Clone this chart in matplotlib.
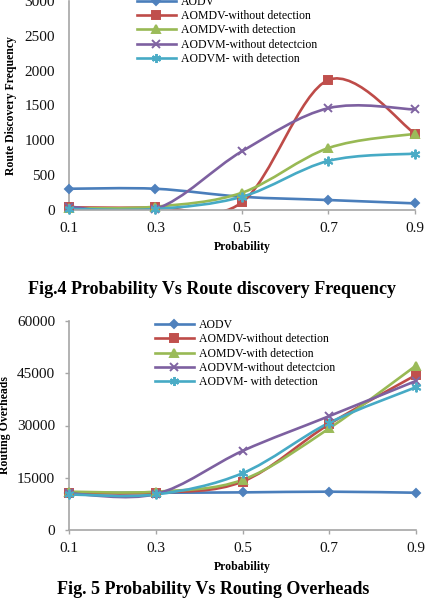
import numpy as np
import matplotlib
matplotlib.use("Agg")
import matplotlib.pyplot as plt
from matplotlib.path import Path
from matplotlib.patches import PathPatch
from matplotlib.lines import Line2D

plt.rcParams['font.family'] = ['Liberation Serif', 'DejaVu Serif']

probability = [0.1, 0.3, 0.5, 0.7, 0.9]
x_tick_labels = ["0.1", "0.3", "0.5", "0.7", "0.9"]
series_names = ["AODV", "AOMDV-without detection", "AOMDV-with detection",
                "AODVM-without detectcion", "AODVM- with detection"]

# Fig.4 Route discovery frequency
rdf_aodv = [305, 305, 190, 143, 95]
rdf_aomdv_wo = [38, 38, 110, 1867, 1095]
rdf_aomdv_w = [24, 48, 248, 890, 1095]
rdf_aodvm_wo = [48, 14, 843, 1462, 1443]
rdf_aodvm_w = [14, 14, 190, 705, 810]

# Fig.5 Routing overheads
ro_aodv = [10700, 10700, 10800, 11000, 10700]
ro_aomdv_wo = [10700, 10700, 13900, 30400, 44500]
ro_aomdv_w = [11000, 11000, 14400, 29200, 47200]
ro_aodvm_wo = [10500, 10300, 22700, 32700, 42800]
ro_aodvm_w = [10200, 10200, 16300, 30800, 41000]

line_colors = ["#4A7EBB", "#BE4B48", "#98B954", "#7D60A0", "#46AAC5"]
marker_colors = ["#4F81BD", "#C0504D", "#9BBB59", "#8064A2", "#4BACC6"]
markers = ["D", "s", "^", "x", (6, 2, 0)]
msizes = [4.5, 6, 6, 6, 7]

W, H = 433, 601
fig = plt.figure(figsize=(W / 100, H / 100), dpi=100)


def smooth_path(xs, ys):
    xs = np.asarray(xs, float)
    ys = np.asarray(ys, float)
    pts = np.column_stack([xs, ys])
    n = len(pts)
    verts = [pts[0]]
    codes = [Path.MOVETO]
    for i in range(n - 1):
        p0 = pts[i - 1] if i > 0 else pts[i]
        p1 = pts[i]
        p2 = pts[i + 1]
        p3 = pts[i + 2] if i + 2 < n else pts[i + 1]
        c1 = p1 + (p2 - p0) / 6.0
        c2 = p2 - (p3 - p1) / 6.0
        verts += [c1, c2, p2]
        codes += [Path.CURVE4] * 3
    return Path(verts, codes)


def make_axes(rect, data, ymax, yticks, ylabel, legend_pos, ytickmarks):
    ax = fig.add_axes(rect)
    for i, ys in enumerate(data):
        patch = PathPatch(smooth_path(probability, ys), facecolor='none',
                          edgecolor=line_colors[i], lw=1.9, zorder=2 + i * 0.1)
        ax.add_patch(patch)
        ax.plot(probability, ys, linestyle='none', marker=markers[i],
                markersize=msizes[i], color=marker_colors[i],
                markeredgecolor=marker_colors[i], mew=1.4, zorder=3 + i * 0.1,
                clip_on=False)
    ax.set_xlim(0.1, 0.9)
    ax.set_ylim(0, ymax)
    ax.set_xticks(probability)
    ax.set_xticklabels(x_tick_labels)
    ax.set_yticks(yticks)
    ax.set_yticklabels([str(t) for t in yticks])
    for s in ['top', 'right']:
        ax.spines[s].set_visible(False)
    for s in ['left', 'bottom']:
        ax.spines[s].set_color('#A6A6A6')
        ax.spines[s].set_linewidth(1.2)
    ax.tick_params(axis='x', direction='out', length=3, width=1.0,
                   color='#A6A6A6', labelsize=11, pad=6, labelcolor='#111111')
    ax.tick_params(axis='y', direction='out', length=3 if ytickmarks else 0,
                   width=1.0, color='#A6A6A6', labelsize=11,
                   pad=7 if ytickmarks else 10, labelcolor='#111111')
    ax.set_xlabel("Probability", fontsize=8.5, fontweight='bold', labelpad=4)
    ax.set_ylabel(ylabel, fontsize=8.5, fontweight='bold')
    handles = [Line2D([], [], color=line_colors[i], lw=1.9, marker=markers[i],
                      markersize=msizes[i] - 0.5, markerfacecolor=marker_colors[i],
                      markeredgecolor=marker_colors[i], mew=1.4)
               for i in range(5)]
    ax.legend(handles, series_names, loc='upper left', bbox_to_anchor=legend_pos,
              frameon=False, fontsize=8.5, handlelength=3.3, handletextpad=0.4,
              labelspacing=0.2, borderpad=0, borderaxespad=0)
    return ax


ax1 = make_axes([69 / W, 1 - 210 / H, 346 / W, 209 / H],
                [rdf_aodv, rdf_aomdv_wo, rdf_aomdv_w, rdf_aodvm_wo, rdf_aodvm_w],
                3000, [0, 500, 1000, 1500, 2000, 2500, 3000],
                "Route Discovery Frequency", (68 / 346, 1.025), False)
ax1.yaxis.set_label_coords(-52 / 346, 0.5)

ax2 = make_axes([69 / W, 1 - 530 / H, 347 / W, 209 / H],
                [ro_aodv, ro_aomdv_wo, ro_aomdv_w, ro_aodvm_wo, ro_aodvm_w],
                60000, [0, 15000, 30000, 45000, 60000],
                "Routing Overheads", (86 / 347, 1 + 2 / 209), True)
ax2.yaxis.set_label_coords(-58 / 347, 0.5)

fig.text(212 / W, 1 - 289 / H, "Fig.4 Probability Vs Route discovery Frequency",
         ha='center', va='center', fontsize=13, fontweight='bold')
fig.text(213 / W, 1 - 590 / H, "Fig. 5 Probability Vs Routing Overheads",
         ha='center', va='center', fontsize=13, fontweight='bold')

fig.savefig("out.png", dpi=100)
